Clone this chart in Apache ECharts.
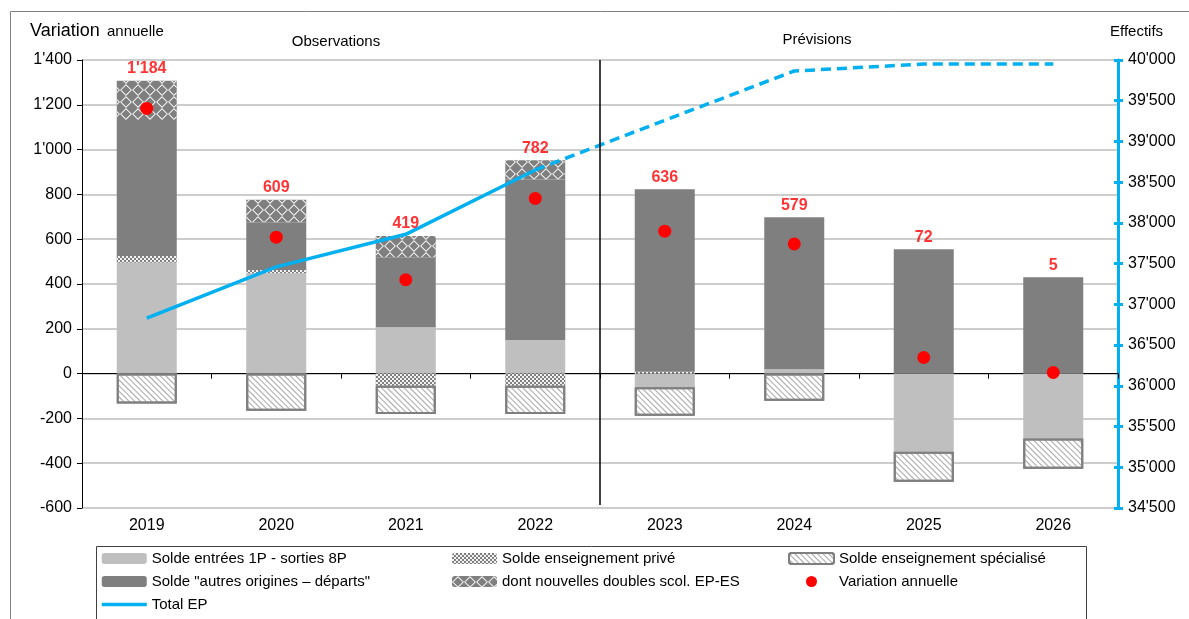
<!DOCTYPE html>
<html>
<head>
<meta charset="utf-8">
<script src="https://cdn.jsdelivr.net/npm/echarts@6/dist/echarts.min.js"></script>
<style>
html,body{margin:0;padding:0;background:#fff;}
#c{width:1189px;height:619px;}
</style>
</head>
<body>
<div id="c"></div>
<script>
const years = ['2019','2020','2021','2022','2023','2024','2025','2026'];
const entrees = [495, 448, 207, 150, -61, 19, -349, -290];
const prive = [30, 15, -54, -54, 8, 0, 0, 0];
const autres = [607, 213, 312, 717, 815, 679, 555, 430];
const doubles = [175, 100, 95, 86, 0, 0, 0, 0];
const specialise = [-133, -166, -126, -126, -127, -121, -134, -135];
const variation = [1184, 609, 419, 782, 636, 579, 72, 5];
const totalEP = [36830, 37460, 37860, 38650, 39260, 39865, 39950, 39950];
const observedCount = 4;
const leftTicks = {min: -600, max: 1400, interval: 200};
const rightTicks = {min: 34500, max: 40000, interval: 500};

const FONT = "'Liberation Sans', Arial, sans-serif";
const LG = '#bfbfbf', DG = '#7f7f7f', BLUE = '#00b0f0';
function fmt(v){ return String(v).replace(/\B(?=(\d{3})+(?!\d))/g, "'"); }

const posTop = years.map((_, i) =>
  [entrees, prive, autres, doubles, specialise].reduce((s, a) => s + Math.max(0, a[i]), 0));

const solid = totalEP.map((v, i) => i < observedCount ? v : '-');
const dashed = totalEP.map((v, i) => i >= observedCount - 1 ? v : '-');

const chart = echarts.init(document.getElementById('c'), null, {renderer: 'canvas'});
const N_ENT = 'Solde entrées 1P - sorties 8P';
const N_PRI = 'Solde enseignement privé';
const N_SPE = 'Solde enseignement spécialisé';
const N_AUT = 'Solde "autres origines – départs"';
const N_DBL = 'dont nouvelles doubles scol. EP-ES';
const N_VAR = 'Variation annuelle';
const N_TOT = 'Total EP';

const diamond = 'path://M6,0L12,6L6,12L0,6Z M6,1.4L1.4,6L6,10.6L10.6,6Z';
const legendCommon = {
  orient: 'vertical', top: 551, itemWidth: 45, itemHeight: 11, itemGap: 8,
  textStyle: {fontFamily: FONT, fontSize: 15, color: '#000'}, padding: 0
};

chart.setOption({
  animation: false,
  textStyle: {fontFamily: FONT},
  grid: {left: 82, right: 71, top: 60, bottom: 111, containLabel: false},
  legend: [
    Object.assign({left: 100, data: [N_ENT, N_AUT,
      {name: N_TOT, itemStyle: {color: 'rgba(0,0,0,0)', borderWidth: 0, opacity: 0},
       lineStyle: {width: 3.5, color: BLUE}}]}, legendCommon),
    Object.assign({left: 452, data: [N_PRI, N_DBL]}, legendCommon),
    Object.assign({left: 788, data: [N_SPE, N_VAR]}, legendCommon)
  ],
  xAxis: [
    {type: 'category', data: years, position: 'bottom',
     axisLine: {show: false}, axisTick: {show: false},
     axisLabel: {fontSize: 16, color: '#000', margin: 10, fontFamily: FONT}},
    {type: 'category', data: years, position: 'bottom',
     axisLine: {show: true, onZero: true, onZeroAxisIndex: 0, lineStyle: {color: '#000', width: 1}},
     axisTick: {show: true, length: 5, lineStyle: {color: '#000'}},
     axisLabel: {show: false}}
  ],
  yAxis: [
    {type: 'value', min: leftTicks.min, max: leftTicks.max, interval: leftTicks.interval,
     axisLine: {show: true, lineStyle: {color: '#000'}},
     axisTick: {show: true, length: 5, lineStyle: {color: '#000'}},
     splitLine: {show: true, lineStyle: {color: '#bdbdbd', width: 1.5}},
     axisLabel: {fontSize: 16, color: '#000', margin: 10, formatter: fmt, fontFamily: FONT}},
    {type: 'value', min: rightTicks.min, max: rightTicks.max, interval: rightTicks.interval,
     position: 'right',
     axisLine: {show: true, lineStyle: {color: BLUE, width: 3}},
     axisTick: {show: true, length: 5, inside: false, lineStyle: {color: BLUE, width: 3}},
     minorTick: {show: false},
     splitLine: {show: false},
     axisLabel: {fontSize: 16, color: '#000', margin: 10, formatter: fmt, fontFamily: FONT}},
    {type: 'value', min: rightTicks.min, max: rightTicks.max, interval: rightTicks.interval,
     position: 'right', offset: 0,
     axisLine: {show: false},
     axisTick: {show: true, length: 4, inside: true, lineStyle: {color: BLUE, width: 3}},
     splitLine: {show: false}, axisLabel: {show: false}}
  ],
  series: [
    {name: N_ENT, type: 'bar', stack: 'a', data: entrees, barWidth: 60,
     itemStyle: {color: LG}},
    {name: N_PRI, type: 'bar', stack: 'a', data: prive,
     itemStyle: {color: DG, decal: {symbol: 'rect', symbolSize: 1, color: 'rgba(255,255,255,0.9)',
       dashArrayX: [[2, 2], [0, 2, 2, 0]], dashArrayY: [2, 0]}}},
    {name: N_AUT, type: 'bar', stack: 'a', data: autres,
     itemStyle: {color: DG}},
    {name: N_DBL, type: 'bar', stack: 'a', data: doubles,
     itemStyle: {color: DG, decal: {symbol: diamond, symbolSize: 1, color: 'rgba(255,255,255,0.9)',
       dashArrayX: [12, 0], dashArrayY: [12, 0]}}},
    {name: N_SPE, type: 'bar', stack: 'a', data: specialise,
     itemStyle: {color: '#fff', borderColor: DG, borderWidth: 2,
       decal: {symbol: 'rect', symbolSize: 1, color: '#a6a6a6',
         dashArrayX: [1, 0], dashArrayY: [1, 3], rotation: Math.PI / 4}}},
    {name: N_TOT, type: 'line', yAxisIndex: 1, data: solid, symbol: 'none',
     lineStyle: {color: BLUE, width: 3.5}, itemStyle: {color: BLUE}, z: 5},
    {name: 'Total EP prévisions', type: 'line', yAxisIndex: 1, data: dashed, symbol: 'none',
     lineStyle: {color: BLUE, width: 3.5, type: [10, 6]}, itemStyle: {color: BLUE}, z: 5},
    {name: N_VAR, type: 'scatter', data: variation, symbolSize: 13,
     itemStyle: {color: '#ff0000', opacity: 1}, z: 6},
    {name: 'labels', type: 'scatter', data: posTop.map((t, i) => ({value: t, lab: variation[i]})),
     symbolSize: 0, silent: true,
     label: {show: true, position: 'top', distance: 4, color: '#ff0000', fontWeight: 'bold',
       fontSize: 16, fontFamily: FONT, formatter: p => fmt(p.data.lab)}, z: 7}
  ]
});

function px(cat, val){ return chart.convertToPixel({xAxisIndex: 0, yAxisIndex: 0}, [cat, val]); }
const a = px(observedCount - 1, 0), b = px(observedCount, 0);
const divX = (a[0] + b[0]) / 2;
const topY = px(0, leftTicks.max)[1];
const botY = px(0, leftTicks.min)[1] - 3;
const obsC = (px(0, 0)[0] + px(observedCount - 1, 0)[0]) / 2;
const preC = (px(observedCount, 0)[0] + px(years.length - 1, 0)[0]) / 2;

chart.setOption({
  graphic: [
    {type: 'rect', shape: {x: 10.5, y: 11.5, width: 1300, height: 800}, silent: true,
     style: {fill: 'none', stroke: '#7f7f7f', lineWidth: 1}, z: -10},
    {type: 'rect', shape: {x: 96.5, y: 546.5, width: 990, height: 100}, silent: true,
     style: {fill: 'none', stroke: '#404040', lineWidth: 1}, z: -10},
    {type: 'line', shape: {x1: divX, y1: topY, x2: divX, y2: botY},
     style: {stroke: '#000', lineWidth: 1.5}, z: 10},
    {type: 'text', left: 30, top: 22, style: {text: 'Variation', font: '18px ' + FONT, fill: '#000'}},
    {type: 'text', left: 107, top: 24, style: {text: 'annuelle', font: '15px ' + FONT, fill: '#000'}},
    {type: 'text', x: obsC - 5, y: 34, style: {text: 'Observations', font: '15px ' + FONT, fill: '#000', align: 'center'}},
    {type: 'text', x: preC - 42, y: 32, style: {text: 'Prévisions', font: '15px ' + FONT, fill: '#000', align: 'center'}},
    {type: 'text', left: 1110, top: 24, style: {text: 'Effectifs', font: '15px ' + FONT, fill: '#000'}}
  ]
});
</script>
</body>
</html>
